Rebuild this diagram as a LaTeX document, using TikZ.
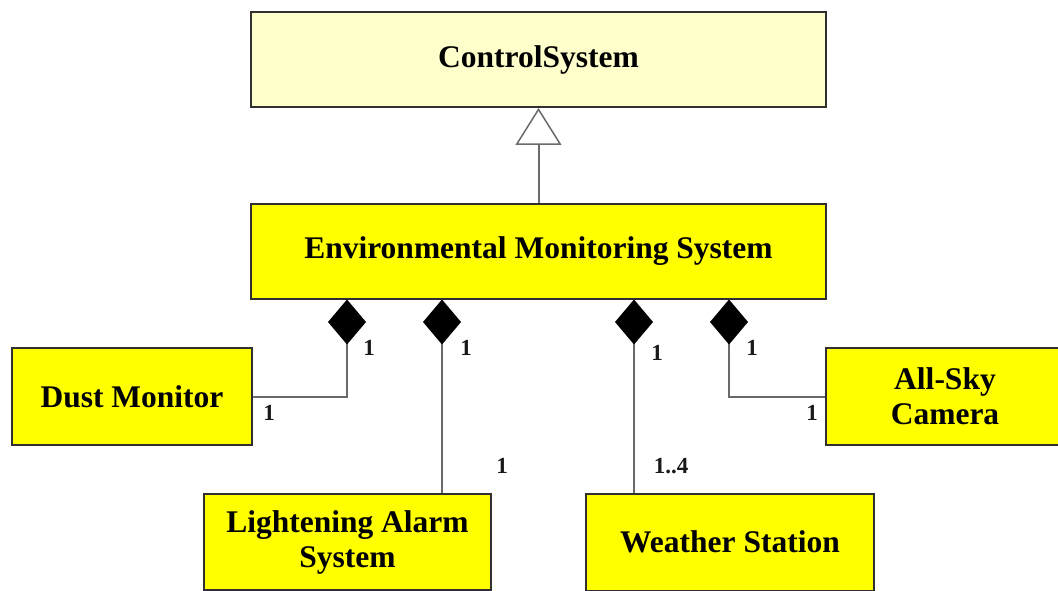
\documentclass[tikz,border=0pt]{standalone}
\usepackage{fontspec}
\setmainfont{Liberation Serif}
\usetikzlibrary{arrows.meta}
\definecolor{paleyellow}{HTML}{FFFFCC}
\definecolor{classyellow}{HTML}{FFFF00}
\definecolor{edgegray}{HTML}{303030}
\definecolor{linkgray}{HTML}{6A6A6A}
\tikzset{
  classbox/.style={draw=edgegray, line width=2pt, fill=classyellow,
    font=\fontsize{31.5}{35}\selectfont\bfseries, align=center, inner sep=0pt},
  genlink/.style={draw=linkgray, line width=2pt,
    -{Triangle[open, length=37pt, width=46pt, line width=1.5pt, fill=white]}},
  complink/.style={draw=linkgray, line width=2pt,
    -{Diamond[length=45pt, width=38pt, fill=black, color=black]}},
  mult/.style={font=\fontsize{23}{25}\selectfont\bfseries, text=black!90, inner sep=0pt}
}
\begin{document}
\begin{tikzpicture}[x=1pt, y=-1pt]
  \useasboundingbox (0,0) rectangle (1058,591);

  % classes
  \node[classbox, fill=paleyellow, minimum width=575pt, minimum height=95pt] (cs) at (538.5,59.5) {ControlSystem};
  \node[classbox, minimum width=575pt, minimum height=95pt] (ems) at (538.5,251) {Environmental Monitoring System};
  \node[classbox, minimum width=240pt, minimum height=97pt] (dust) at (132,396.5) {Dust Monitor};
  \node[classbox, minimum width=287pt, minimum height=96pt] (las) at (347.5,542) {Lightening Alarm\\System};
  \node[classbox, minimum width=288pt, minimum height=97pt] (ws) at (730,542) {Weather Station};
  \node[classbox, minimum width=238pt, minimum height=97pt] (cam) at (945,396.5) {All-Sky\\Camera};

  % generalisation
  \draw[genlink] (ems.north) -- (cs.south);

  % compositions
  \draw[complink] (dust.east) -| ([xshift=97pt]ems.south west);
  \draw[complink] ([xshift=239pt]las.north west) -- ([xshift=192pt]ems.south west);
  \draw[complink] ([xshift=49pt]ws.north west) -- ([xshift=384pt]ems.south west);
  \draw[complink] (cam.west) -| ([xshift=479pt]ems.south west);

  % multiplicities
  \node[mult] (m1) at (369,348) {1};
  \node[mult] (m2) at (269,413) {1};
  \node[mult] (m3) at (466,348) {1};
  \node[mult] (m4) at (502,466) {1};
  \node[mult] (m5) at (657,353) {1};
  \node[mult] (m6) at (671,466) {1..4};
  \node[mult] (m7) at (752,348) {1};
  \node[mult] (m8) at (812,413) {1};
\end{tikzpicture}
\end{document}
